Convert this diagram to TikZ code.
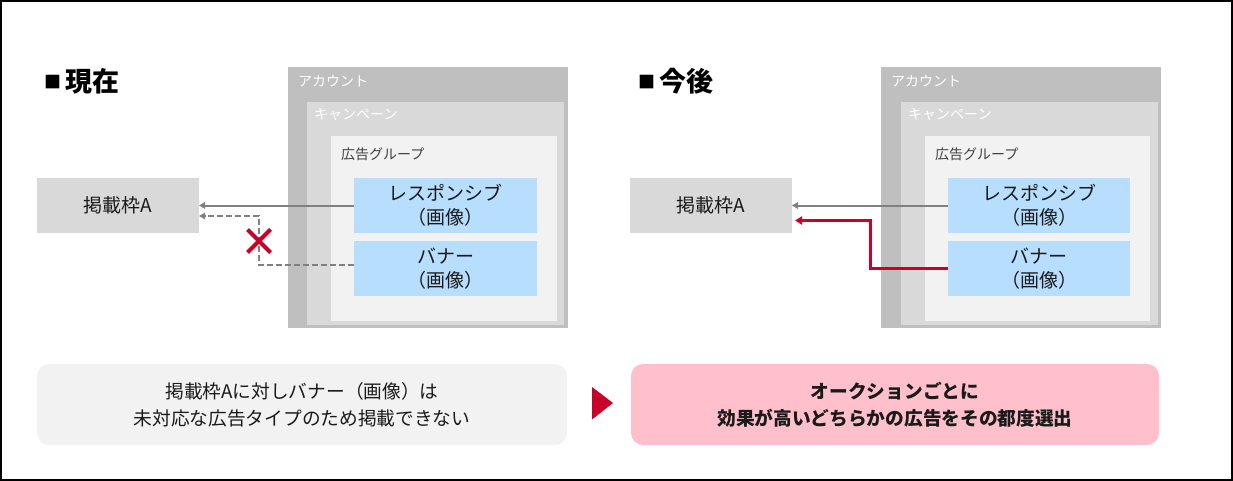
\documentclass[tikz,border=0pt]{standalone}
\usepackage{fontspec}
\setmainfont{Noto Sans CJK JP}
\usetikzlibrary{arrows.meta,shapes.misc,calc}
\definecolor{acc}{HTML}{BFBFBF}
\definecolor{cam}{HTML}{D9D9D9}
\definecolor{adg}{HTML}{F2F2F2}
\definecolor{blu}{RGB}{183,222,255}
\definecolor{pnk}{RGB}{255,192,204}
\definecolor{crim}{RGB}{200,0,42}
\definecolor{agray}{HTML}{808080}
\definecolor{txt}{HTML}{1A1A1A}
\definecolor{lbldark}{HTML}{404040}
\begin{document}
\begin{tikzpicture}[x=1pt,y=-1pt,
  box/.style={anchor=north west, inner sep=0pt, outer sep=0pt},
  lbl/.style={anchor=west, inner sep=0pt, font=\fontsize{14}{14}\selectfont},
  main/.style={font=\fontsize{19}{23.5}\selectfont, align=center, text=txt},
  ttl/.style={anchor=west, inner sep=0pt, font=\fontsize{27}{27}\selectfont\bfseries, text=black},
  garrow/.style={draw=agray, line width=2pt, -{Triangle[length=6pt,width=6.5pt]}},
  rarrow/.style={draw=crim, line width=3pt, -{Triangle[length=7pt,width=8pt]}},
  note/.style={box, rounded corners=12pt, minimum width=530pt, minimum height=81pt,
    font=\fontsize{18.7}{27}\selectfont, align=center, text=txt}
  ]
\useasboundingbox (0,0) rectangle (1233,481);
\fill[white] (0,0) rectangle (1233,481);
\draw[line width=2pt] (1,1) rectangle (1232,480);

% ---------- left panel ----------
\node[ttl] (t1) at (44,81.5) {\raisebox{3.5pt}{\fontsize{17}{17}\selectfont ■}\,現在};
\node[box, fill=acc, minimum width=280pt, minimum height=261pt] (acc1) at (288,67) {};
\node[box, fill=cam, minimum width=257pt, minimum height=223pt] (cam1) at (307,102) {};
\node[box, fill=adg, minimum width=226pt, minimum height=185pt] (adg1) at (331,136) {};
\node[lbl, text=white] (accl1) at (298,81.5) {アカウント};
\node[lbl, text=white] (caml1) at (314,115) {キャンペーン};
\node[lbl, text=lbldark] (adgl1) at (341,154) {広告グループ};
\node[box, fill=blu, minimum width=183pt, minimum height=55pt, main] (res1) at (354,178) {レスポンシブ\\（画像）};
\node[box, fill=blu, minimum width=183pt, minimum height=55pt, main] (ban1) at (354,241) {バナー\\（画像）};
\node[box, fill=cam, minimum width=162pt, minimum height=55pt, main] (kei1) at (37,178) {掲載枠A};

\draw[garrow] (res1.west) -- (kei1.east);
\draw[garrow, dash pattern=on 6pt off 3pt] ([yshift=3.5pt]ban1.west) -- ++(-95,0) |- ([yshift=-10.5pt]kei1.east);
\node[cross out, draw=crim, line width=4pt, minimum size=19pt, inner sep=0pt] (x1) at (259,241) {};

% ---------- right panel ----------
\node[ttl] (t2) at (638,81.5) {\raisebox{3.5pt}{\fontsize{17}{17}\selectfont ■}\,今後};
\node[box, fill=acc, minimum width=280pt, minimum height=261pt] (acc2) at (881,67) {};
\node[box, fill=cam, minimum width=257pt, minimum height=223pt] (cam2) at (901,102) {};
\node[box, fill=adg, minimum width=225pt, minimum height=185pt] (adg2) at (925,136) {};
\node[lbl, text=white] (accl2) at (891,81.5) {アカウント};
\node[lbl, text=white] (caml2) at (908,115) {キャンペーン};
\node[lbl, text=lbldark] (adgl2) at (935,154) {広告グループ};
\node[box, fill=blu, minimum width=182pt, minimum height=55pt, main] (res2) at (948,178) {レスポンシブ\\（画像）};
\node[box, fill=blu, minimum width=182pt, minimum height=55pt, main] (ban2) at (948,241) {バナー\\（画像）};
\node[box, fill=cam, minimum width=162pt, minimum height=55pt, main] (kei2) at (630,178) {掲載枠A};

\draw[garrow] (res2.west) -- (kei2.east);
\draw[rarrow, shorten >=3pt] (ban2.west) -- ++(-77.5,0) |- ([yshift=-15pt]kei2.east);

% ---------- bottom ----------
\node[note, fill=adg] (n1) at (37,364) {掲載枠Aに対しバナー（画像）は\\未対応な広告タイプのため掲載できない};
\node[note, fill=pnk, minimum width=528pt, font=\fontsize{18.7}{27}\selectfont\bfseries] (n2) at (631,364) {オークションごとに\\効果が高いどちらかの広告をその都度選出};
\fill[crim] (592,387) -- (613,403) -- (592,419.5) -- cycle;
\end{tikzpicture}
\end{document}
